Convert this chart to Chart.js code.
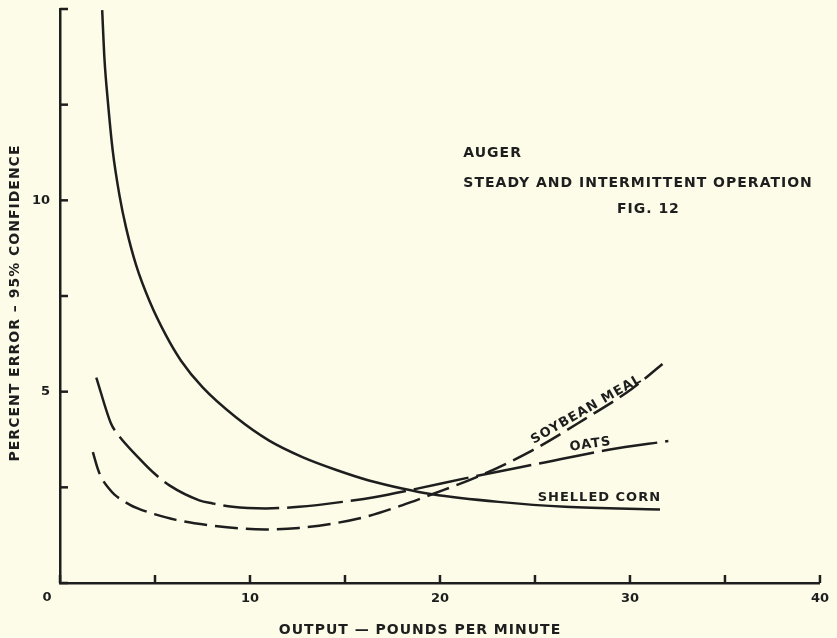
<!DOCTYPE html>
<html>
<head>
<meta charset="utf-8">
<script src="https://cdn.jsdelivr.net/npm/chart.js@4.4.1/dist/chart.umd.min.js"></script>
<style>
  body { margin: 0; background: #fcfce8; }
  #wrap { width: 837px; height: 638px; position: relative; }
</style>
</head>
<body>
<div id="wrap"><canvas id="augerChart"></canvas></div>
<script>
// Values (output in lb/min, percent error)
const cornX = [2.22, 2.34, 2.52, 2.78, 3.13, 3.48, 4.01, 4.71, 5.58, 6.37, 7.51, 9.26, 11.01, 12.76, 14.51, 16.26, 18.01, 19.59, 23.09, 26.59, 31.58];
const cornY = [14.97, 13.7, 12.58, 11.28, 10.13, 9.28, 8.30, 7.37, 6.47, 5.81, 5.11, 4.33, 3.72, 3.29, 2.96, 2.68, 2.47, 2.32, 2.12, 1.99, 1.92];

const oatsX = [1.91, 2.69, 2.96, 4.18, 4.97, 5.76, 7.33, 8.03, 9.08, 10.83, 12.58, 14.86, 16.61, 18.36, 22.04, 25.19, 28.87, 32.02];
const oatsY = [5.37, 4.16, 3.94, 3.25, 2.86, 2.55, 2.16, 2.08, 1.99, 1.95, 1.99, 2.12, 2.25, 2.42, 2.81, 3.12, 3.48, 3.71];

const soyX = [1.73, 1.99, 2.17, 2.61, 2.87, 3.66, 4.09, 4.97, 6.11, 7.86, 9.61, 10.83, 12.58, 14.33, 16.09, 18.0, 19.59, 22.04, 24.84, 27.64, 30.09, 32.02];
const soyY = [3.42, 2.98, 2.76, 2.45, 2.31, 2.05, 1.95, 1.80, 1.65, 1.51, 1.42, 1.40, 1.44, 1.55, 1.73, 2.03, 2.32, 2.79, 3.46, 4.29, 5.07, 5.85];

const xLabels = [10, 20, 30, 40]; // labelled x ticks
const yLabels = [5, 10];         // labelled y ticks

const ink = "#1e1e1e";
const letterFont = "bold 14px 'DejaVu Sans'";

function toPoints(xs, ys) {
  return xs.map((x, i) => ({ x: x, y: ys[i] }));
}

// draws inward ticks, the shared origin "0", axis titles and notes
const paperAxes = {
  id: "paperAxes",
  afterDraw(chart) {
    const { ctx, chartArea, scales } = chart;
    const xs = scales.x, ys = scales.y;
    ctx.save();
    ctx.strokeStyle = ink;
    ctx.lineWidth = 2.5;
    xs.ticks.forEach((t) => {
      const px = xs.getPixelForValue(t.value);
      ctx.beginPath();
      ctx.moveTo(px, chartArea.bottom);
      ctx.lineTo(px, chartArea.bottom - 8);
      ctx.stroke();
    });
    ys.ticks.forEach((t) => {
      const py = ys.getPixelForValue(t.value);
      ctx.beginPath();
      ctx.moveTo(chartArea.left, py);
      ctx.lineTo(chartArea.left + 8, py);
      ctx.stroke();
    });

    ctx.fillStyle = ink;
    ctx.textBaseline = "middle";
    ctx.font = "bold 13px 'DejaVu Sans'";
    ctx.textAlign = "center";
    ctx.fillText("0", chartArea.left - 13, chartArea.bottom + 15);

    ctx.font = letterFont;
    ctx.letterSpacing = "1px";
    // x axis title
    ctx.fillText("OUTPUT — POUNDS PER MINUTE", 420, 630);
    // y axis title
    ctx.save();
    ctx.translate(15, 303);
    ctx.rotate(-Math.PI / 2);
    ctx.fillText("PERCENT ERROR – 95% CONFIDENCE", 0, 0);
    ctx.restore();

    // figure notes
    ctx.textAlign = "left";
    ctx.fillText("AUGER", xs.getPixelForValue(21.23), ys.getPixelForValue(11.22));
    ctx.fillText("STEADY AND INTERMITTENT OPERATION", xs.getPixelForValue(21.23), ys.getPixelForValue(10.44));
    ctx.textAlign = "center";
    ctx.fillText("FIG. 12", xs.getPixelForValue(30.97), ys.getPixelForValue(9.77));

    // curve labels
    ctx.font = "bold 13px 'DejaVu Sans'";
    ctx.fillText("SHELLED CORN", xs.getPixelForValue(28.39), ys.getPixelForValue(2.24));
    ctx.save();
    ctx.translate(xs.getPixelForValue(27.92), ys.getPixelForValue(3.62));
    ctx.rotate(-8 * Math.PI / 180);
    ctx.fillText("OATS", 0, 0);
    ctx.restore();
    ctx.save();
    ctx.translate(xs.getPixelForValue(27.71), ys.getPixelForValue(4.53));
    ctx.rotate(-30 * Math.PI / 180);
    ctx.fillText("SOYBEAN MEAL", 0, 0);
    ctx.restore();
    ctx.restore();
  },
};

const ctx = document.getElementById("augerChart").getContext("2d");
const augerChart = new Chart(ctx, {
  type: "line",
  data: {
    datasets: [
      {
        label: "Shelled corn",
        data: toPoints(cornX, cornY),
        borderColor: ink,
        borderWidth: 2.5,
      },
      {
        label: "Oats",
        data: toPoints(oatsX, oatsY),
        borderColor: ink,
        borderWidth: 2.5,
        borderDash: [56, 8],
      },
      {
        label: "Soybean meal",
        data: toPoints(soyX, soyY),
        borderColor: ink,
        borderWidth: 2.5,
        borderDash: [23, 8],
      },
    ],
  },
  options: {
    responsive: true,
    maintainAspectRatio: false,
    animation: false,
    layout: { padding: { top: 9, right: 15, left: 0, bottom: 0 } },
    elements: {
      point: { radius: 0 },
      line: { cubicInterpolationMode: "monotone", fill: false },
    },
    plugins: {
      legend: { display: false },
      tooltip: { enabled: false },
    },
    scales: {
      x: {
        type: "linear",
        min: 0,
        max: 40,
        afterFit: (scale) => { scale.height = 55; },
        grid: { drawOnChartArea: false, drawTicks: false },
        border: { display: true, color: ink, width: 2.5 },
        ticks: {
          stepSize: 5,
          padding: 8,
          color: ink,
          font: { family: "DejaVu Sans", size: 13, weight: "bold" },
          callback: (v) => (xLabels.includes(v) ? String(v) : ""),
        },
      },
      y: {
        min: 0,
        max: 15,
        afterFit: (scale) => {
          scale.width = 60;
          scale.paddingTop = 0;
          scale.paddingBottom = 0;
        },
        grid: { drawOnChartArea: false, drawTicks: false },
        border: { display: true, color: ink, width: 2.5 },
        ticks: {
          stepSize: 2.5,
          padding: 10,
          color: ink,
          font: { family: "DejaVu Sans", size: 13, weight: "bold" },
          callback: (v) => (yLabels.includes(v) ? String(v) : ""),
        },
      },
    },
  },
  plugins: [paperAxes],
});
</script>
</body>
</html>
